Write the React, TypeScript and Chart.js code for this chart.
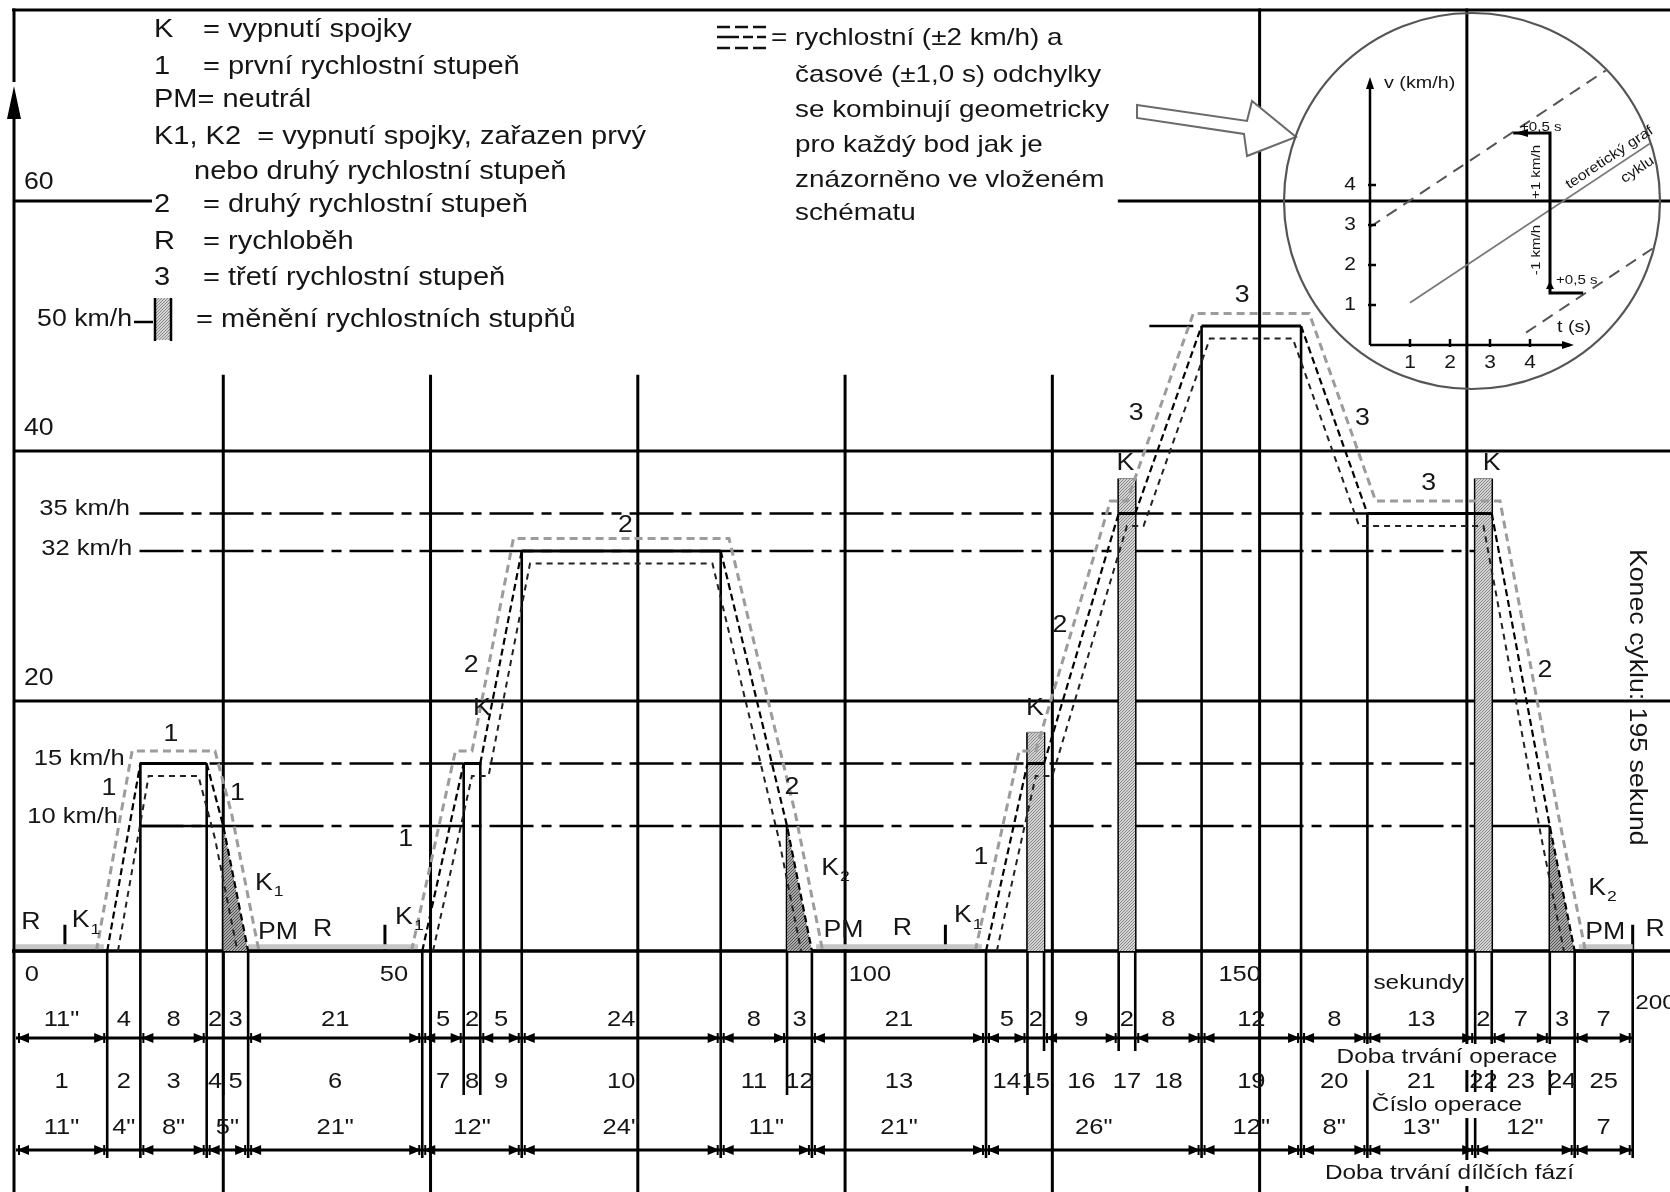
import React, { useEffect, useRef } from "react";
import { Chart, registerables } from "chart.js";

Chart.register(...registerables);

// ---------------- data ----------------
const TIME = [0, 11, 15, 23, 25, 28, 49, 54, 56, 61, 85, 93, 96, 117, 122, 124, 133, 135, 143, 155, 163, 176, 178, 185, 188, 195];
const SPEED = [0, 0, 15, 15, 10, 0, 0, 15, 15, 32, 32, 10, 0, 0, 15, 15, 35, 35, 50, 50, 35, 35, 35, 10, 0, 0];

// tolerance band (upper / lower), null = break between hills
const UPPER_T = [9.7, 14, 24, 26, 29.3, null, 47.7, 53, 55, 60, 86, 94, 97.3, null, 115.7, 121, 123, 132, 134, 142, 156, 164, 179, 186, 189.3];
const UPPER_V = [0, 16, 16, 11, 0, null, 0, 16, 16, 33, 33, 11, 0, null, 0, 16, 16, 36, 36, 51, 51, 36, 36, 11, 0];
const LOWER_T = [12.3, 16, 22, 24, 26.7, null, 50.3, 55, 57, 62, 84, 92, 94.7, null, 118.3, 123, 125, 134, 136, 144, 154, 162, 177, 184, 186.7];
const LOWER_V = [0, 14, 14, 9, 0, null, 0, 14, 14, 31, 31, 9, 0, null, 0, 14, 14, 34, 34, 49, 49, 34, 34, 9, 0];

// gear change bars
const GEAR_FROM = [122, 133, 176];
const GEAR_TO = [124, 135, 178];
const GEAR_TOP = [17.5, 37.8, 37.8];
// declutch shading (10 km/h -> 0)
const DECL_FROM = [25, 93, 185];
const DECL_TO = [28, 96, 188];
const DECL_V = [10, 10, 10];
// idle strips
const IDLE_FROM = [0, 28, 96.5, 188.5];
const IDLE_TO = [10.6, 48.5, 116.5, 195];
// reference speed lines (dash-dot)
const REF_V = [35, 32, 15, 10, 50];
const REF_FROM = [14.9, 14.9, 14.9, 14.9, 136.7];
const REF_TO = [163, 176, 176, 176, 143];
const TEN_FROM = [15, 176];
const TEN_TO = [25, 185];
const REF_LABELS = ["35 km/h", "32 km/h", "15 km/h", "10 km/h"];
const REF_LABEL_V = [35.4, 32.2, 15.4, 10.7];
const REF_LABEL_T = [13.75, 14, 13.1, 12.3];
// clutch ticks on the time axis
const KTICK_T = [5.9, 44.5, 112.1, 195];
// grid
const GRID_V = [20, 40];
const GRID_T = [25, 50, 75, 100, 125, 150, 175];
const AXIS_LABELS = ["60", "40", "20"];
const AXIS_LABEL_V = [61.5, 41.8, 21.8];
const TICK_LABELS = ["0", "50", "100", "150"];
const TICK_LABEL_T = [1.9, 45.6, 103, 147.6];

// operations / phases table
const OP_DUR = [11, 4, 8, 2, 3, 21, 5, 2, 5, 24, 8, 3, 21, 5, 2, 9, 2, 8, 12, 8, 13, 2, 7, 3, 7];
const OP_DUR_LABEL = ['11"', "4", "8", "2", "3", "21", "5", "2", "5", "24", "8", "3", "21", "5", "2", "9", "2", "8", "12", "8", "13", "2", "7", "3", "7"];
const PHASE_DUR = [11, 4, 8, 5, 21, 12, 24, 11, 21, 26, 12, 8, 13, 12, 7];
const PHASE_LABEL = ['11"', '4"', '8"', '5"', '21"', '12"', '24"', '11"', '21"', '26"', '12"', '8"', '13"', '12"', "7"];
const SHORT_OP_T = [124, 133, 135];

// labels inside the chart (t, v)
const LBL_TEXT = ["R", "K_1", "1", "1", "1", "K_1", "PM", "R", "K_1", "1", "2", "K", "2", "2", "K_2", "PM", "R", "K_1", "1", "K", "2", "K", "3", "3", "3", "3", "K", "2", "K_2", "PM", "R"];
const LBL_T = [1.8, 7.8, 11.2, 18.7, 26.7, 29.9, 31.6, 37, 46.8, 47, 54.9, 56.2, 73.5, 93.6, 98.2, 99.8, 106.9, 114.2, 116.4, 122.9, 125.9, 133.8, 135.1, 147.9, 162.4, 170.4, 178, 184.4, 190.7, 191.7, 197.7];
const LBL_V = [2.3, 2.4, 13.0, 17.3, 12.6, 5.4, 1.5, 1.7, 2.7, 8.9, 22.8, 19.4, 34, 13.1, 6.6, 1.6, 1.8, 2.8, 7.5, 19.4, 26, 39, 43, 52.4, 42.6, 37.4, 39, 22.4, 5, 1.5, 1.7];

const LEGEND_SYM = ["K", "1", "PM= neutrál", "K1, K2  = vypnutí spojky, zařazen prvý", "", "2", "R", "3", ""];
const LEGEND_TXT = ["= vypnutí spojky", "= první rychlostní stupeň", "", "", "nebo druhý rychlostní stupeň", "= druhý rychlostní stupeň", "= rychloběh", "= třetí rychlostní stupeň", "= měnění rychlostních stupňů"];
const NOTE_LINES = ["rychlostní (±2 km/h) a", "časové (±1,0 s) odchylky", "se kombinují geometricky", "pro každý bod jak je", "znázorněno ve vloženém", "schématu"];

// ---------------- drawing helpers ----------------
const SX = 1.16;
const FF = '"Liberation Sans", Arial, Helvetica, sans-serif';

function seg(ctx: any, x1: number, y1: number, x2: number, y2: number, w = 2.6, color = "#000", dash: number[] = []) {
  ctx.save();
  ctx.beginPath();
  ctx.strokeStyle = color;
  ctx.lineWidth = w;
  ctx.setLineDash(dash);
  ctx.moveTo(x1, y1);
  ctx.lineTo(x2, y2);
  ctx.stroke();
  ctx.restore();
}
function tri(ctx: any, ax: number, ay: number, bx: number, by: number, cx: number, cy: number, color = "#000") {
  ctx.save();
  ctx.beginPath();
  ctx.fillStyle = color;
  ctx.moveTo(ax, ay);
  ctx.lineTo(bx, by);
  ctx.lineTo(cx, cy);
  ctx.closePath();
  ctx.fill();
  ctx.restore();
}
function txt(ctx: any, s: string, x: number, y: number, size: number, align = "left", o: any = {}) {
  ctx.save();
  ctx.translate(x, y);
  if (o.rot) ctx.rotate(o.rot);
  const sx = o.sx || SX;
  ctx.scale(sx, 1);
  ctx.font = `${size}px ${FF}`;
  ctx.textAlign = align;
  ctx.textBaseline = "middle";
  if (o.bg) {
    const w = ctx.measureText(s).width;
    const x0 = align === "center" ? -w / 2 : align === "right" ? -w : 0;
    ctx.fillStyle = "#fff";
    ctx.fillRect(x0 - 2, -size * 0.62, w + 4, size * 1.24);
  }
  ctx.fillStyle = o.color || "#151515";
  ctx.fillText(s, 0, 0);
  ctx.restore();
}
function klabel(ctx: any, s: string, x: number, y: number, size: number) {
  const parts = s.split("_");
  txt(ctx, parts[0], x, y, size, "center");
  if (parts[1]) {
    ctx.save();
    ctx.font = `${size}px ${FF}`;
    const w = ctx.measureText(parts[0]).width * SX;
    ctx.restore();
    txt(ctx, parts[1], x + w / 2 + 1, y + size * 0.38, size * 0.66, "left");
  }
}
function cumsum(a: number[]) {
  const out: number[] = [];
  let s = 0;
  a.forEach((d) => {
    s += d;
    out.push(s);
  });
  return out;
}
function runs(ts: any[], vs: any[]) {
  const out: any[] = [];
  let cur: any[] = [];
  ts.forEach((t, i) => {
    if (t === null) {
      if (cur.length) out.push(cur);
      cur = [];
    } else cur.push({ x: t, y: vs[i] });
  });
  if (cur.length) out.push(cur);
  return out;
}
function topAt(t: number) {
  let v = 0;
  TIME.forEach((tt, i) => {
    if (Math.abs(tt - t) < 1e-6) v = Math.max(v, SPEED[i]);
  });
  GEAR_FROM.forEach((g, i) => {
    if (t >= g - 1e-6 && t <= GEAR_TO[i] + 1e-6) v = Math.max(v, GEAR_TOP[i]);
  });
  return v;
}
function makePattern(bg: string, dot: string) {
  const c = document.createElement("canvas");
  c.width = 3;
  c.height = 3;
  const g = c.getContext("2d")!;
  g.fillStyle = bg;
  g.fillRect(0, 0, 3, 3);
  g.fillStyle = dot;
  g.fillRect(0, 0, 1, 1);
  g.fillRect(2, 1, 1, 1);
  g.fillRect(1, 2, 1, 1);
  return g.createPattern(c, "repeat");
}

const drawPlugin = {
  id: "cycleDrawing",
  beforeDatasetsDraw(chart: any) {
    const ctx = chart.ctx;
    const xs = chart.scales.x;
    const ys = chart.scales.y;
    const X = (t: number) => xs.getPixelForValue(t);
    const Y = (v: number) => ys.getPixelForValue(v);
    const W = chart.width;
    const H = chart.height;
    const y0 = Y(0);
    const ax = X(0) - 2;
    ctx.save();
    ctx.fillStyle = "#fff";
    ctx.fillRect(0, 0, W, H);
    // frame + axis
    seg(ctx, ax - 2, 10, W, 10, 3);
    seg(ctx, ax, 8.5, ax, 82, 3);
    seg(ctx, ax, 112, ax, H, 3);
    tri(ctx, ax, 86, ax - 7, 119, ax + 7, 119);
    // horizontal grid
    GRID_V.forEach((v) => seg(ctx, ax, Y(v), W, Y(v), 3));
    seg(ctx, ax, Y(60), X(16.4), Y(60), 3);
    seg(ctx, X(132.9), Y(60), W, Y(60), 3);
    // vertical grid
    GRID_T.forEach((t) => seg(ctx, X(t), t >= 150 ? 8.5 : Y(46.1), X(t), H, 3));
    // clutch ticks
    KTICK_T.forEach((t) => seg(ctx, X(t), Y(2.1), X(t), y0, 3));
    // operation boundaries
    const phaseB = cumsum(PHASE_DUR);
    const opB = cumsum(OP_DUR);
    opB.forEach((t) => {
      const isPhase = phaseB.some((p) => Math.abs(p - t) < 1e-6);
      const bottom = isPhase ? y0 + 207 : SHORT_OP_T.includes(t) ? y0 + 100 : y0 + 144;
      seg(ctx, X(t), Y(topAt(t)), X(t), bottom, 2.6);
    });
    // baseline
    seg(ctx, ax - 2, y0, W, y0, 3.5);
    // dimension lines
    const ar1 = y0 + 87;
    const ar2 = y0 + 199;
    seg(ctx, X(0), ar1, X(195), ar1, 2.8);
    seg(ctx, X(0), ar2, X(195), ar2, 2.8);
    const arrows = (durs: number[], yy: number) => {
      let acc = 0;
      durs.forEach((d) => {
        const a = X(acc);
        const b = X(acc + d);
        if (d >= 5) {
          tri(ctx, a + 1, yy, a + 13, yy - 5, a + 13, yy + 5);
          tri(ctx, b - 1, yy, b - 13, yy - 5, b - 13, yy + 5);
          seg(ctx, a + 3, yy - 5, a + 3, yy + 5, 2);
          seg(ctx, b - 3, yy - 5, b - 3, yy + 5, 2);
        }
        acc += d;
      });
    };
    arrows(OP_DUR, ar1);
    arrows(PHASE_DUR, ar2);
    ctx.restore();
  },
  afterDatasetsDraw(chart: any) {
    const ctx = chart.ctx;
    const xs = chart.scales.x;
    const ys = chart.scales.y;
    const X = (t: number) => xs.getPixelForValue(t);
    const Y = (v: number) => ys.getPixelForValue(v);
    const y0 = Y(0);
    ctx.save();

    // ---- legend block (top left) ----
    const LY = [30, 67, 100, 137, 172, 205, 242, 278, 320];
    LEGEND_SYM.forEach((s, i) => {
      if (s) txt(ctx, s, 154, LY[i], 25, "left");
    });
    LEGEND_TXT.forEach((s, i) => {
      if (!s) return;
      const x = i === 4 ? 194 : i === 8 ? 196 : 203;
      txt(ctx, s, x, LY[i], 25, "left");
    });
    txt(ctx, "50 km/h", 132, 320, 23, "right");
    seg(ctx, 134, 322, 153, 322, 2.5);
    ctx.fillStyle = makePattern("#d4d4d4", "#8a8a8a");
    ctx.fillRect(155, 298, 16, 42);
    seg(ctx, 155, 298, 155, 341, 2.5);
    seg(ctx, 171, 298, 171, 341, 2.5);
    AXIS_LABELS.forEach((s, i) => txt(ctx, s, 24, Y(AXIS_LABEL_V[i]), 23, "left"));

    // ---- tolerance note ----
    seg(ctx, 717, 27, 766, 27, 2.4, "#111", [13, 5]);
    seg(ctx, 717, 37, 766, 37, 2.4, "#111", [22, 4, 10, 4]);
    seg(ctx, 717, 48, 766, 48, 2.4, "#111", [13, 5]);
    txt(ctx, "= " + NOTE_LINES[0], 771, 38, 24, "left");
    const NY = [38, 75, 110, 145, 180, 213];
    NOTE_LINES.forEach((s, i) => {
      if (i > 0) txt(ctx, s, 795, NY[i], 24, "left");
    });
    // hollow arrow to the inset
    ctx.beginPath();
    const AP = [[1137, 105], [1247, 121], [1252, 101], [1296, 137], [1247, 156], [1244, 134], [1137, 118]];
    AP.forEach((p, i) => (i ? ctx.lineTo(p[0], p[1]) : ctx.moveTo(p[0], p[1])));
    ctx.closePath();
    ctx.fillStyle = "#fff";
    ctx.fill();
    ctx.strokeStyle = "#6a6a6a";
    ctx.lineWidth = 2;
    ctx.setLineDash([]);
    ctx.stroke();

    // ---- inset ----
    const CX = 1472, CY = 201, R = 188;
    const OX = 1370, OY = 345, U = 40;
    const ix = (t: number) => OX + U * t;
    const iy = (v: number) => OY - U * v;
    ctx.beginPath();
    ctx.arc(CX, CY, R, 0, Math.PI * 2);
    ctx.strokeStyle = "#555";
    ctx.lineWidth = 2.2;
    ctx.stroke();
    ctx.save();
    ctx.beginPath();
    ctx.arc(CX, CY, R - 1, 0, Math.PI * 2);
    ctx.clip();
    const k = 0.664;
    seg(ctx, ix(0), iy(2.95), ix(6.4), iy(2.95 + k * 6.4), 2, "#555", [12, 8]);
    seg(ctx, ix(1), iy(0.39 + k), ix(8), iy(0.39 + k * 8), 1.8, "#777");
    seg(ctx, ix(3.9), iy(-2.28 + k * 3.9), ix(8.5), iy(-2.28 + k * 8.5), 2, "#555", [12, 8]);
    ctx.restore();
    seg(ctx, ix(0), iy(0), ix(0), iy(6.5), 2.5);
    tri(ctx, ix(0), iy(6.7), ix(0) - 4, iy(6.4), ix(0) + 4, iy(6.4));
    seg(ctx, ix(0), iy(0), ix(5), iy(0), 2.5);
    tri(ctx, ix(5.1), iy(0), ix(4.8), iy(0) - 4, ix(4.8), iy(0) + 4);
    [1, 2, 3, 4].forEach((n) => {
      seg(ctx, ix(n), iy(0) - 6, ix(n), iy(0) + 2, 2.5);
      txt(ctx, String(n), ix(n), iy(0) + 18, 18, "center");
      seg(ctx, ix(0) - 2, iy(n), ix(0) + 6, iy(n), 2.5);
      txt(ctx, String(n), ix(0) - 20, iy(n), 18, "center");
    });
    txt(ctx, "v (km/h)", ix(0) + 14, iy(6.55), 17, "left");
    txt(ctx, "t (s)", 1557, 327, 17, "left");
    // step
    ctx.beginPath();
    ctx.moveTo(ix(3.58), iy(5.3));
    ctx.lineTo(ix(4.5), iy(5.3));
    ctx.lineTo(ix(4.5), iy(1.3));
    ctx.lineTo(ix(5.33), iy(1.3));
    ctx.strokeStyle = "#000";
    ctx.lineWidth = 3;
    ctx.stroke();
    tri(ctx, ix(3.62), iy(5.3), ix(3.95), iy(5.3) - 4, ix(3.95), iy(5.3) + 4);
    tri(ctx, ix(4.5), iy(1.3) - 12, ix(4.5) - 4, iy(1.3) - 4, ix(4.5) + 4, iy(1.3) - 4);
    txt(ctx, "+0,5 s", 1520, 127, 13, "left");
    txt(ctx, "+0,5 s", 1556, 280, 13, "left");
    txt(ctx, "+1 km/h", 1536, 172, 13, "center", { rot: -Math.PI / 2 });
    txt(ctx, "-1 km/h", 1536, 250, 13, "center", { rot: -Math.PI / 2 });
    const ang = -Math.atan(k);
    txt(ctx, "teoretický graf", 1567, 186, 14, "left", { rot: ang });
    txt(ctx, "cyklu", 1622, 180, 14, "left", { rot: ang });

    // ---- speed reference labels ----
    REF_LABELS.forEach((s, i) => txt(ctx, s, X(REF_LABEL_T[i]), Y(REF_LABEL_V[i]), 22, "right"));
    // ---- labels in chart ----
    LBL_TEXT.forEach((s, i) => klabel(ctx, s, X(LBL_T[i]), Y(LBL_V[i]), 23));
    txt(ctx, "Konec cyklu: 195 sekund", X(195.4), Y(20.3), 23, "center", { rot: Math.PI / 2 });

    // ---- table ----
    TICK_LABELS.forEach((s, i) => txt(ctx, s, X(TICK_LABEL_T[i]), y0 + 24, 22, "center"));
    txt(ctx, "sekundy", X(169.2), y0 + 32, 21, "center");
    txt(ctx, "200", X(195.3), y0 + 52, 21, "left");
    let acc = 0;
    OP_DUR.forEach((d, i) => {
      const c = X(acc + d / 2);
      txt(ctx, OP_DUR_LABEL[i], c, y0 + 69, 22, "center");
      txt(ctx, String(i + 1), c, y0 + 131, 22, "center");
      acc += d;
    });
    acc = 0;
    PHASE_DUR.forEach((d, i) => {
      const c = X(acc + d / 2);
      txt(ctx, PHASE_LABEL[i], c, y0 + 177, 22, "center");
      acc += d;
    });
    txt(ctx, "Doba trvání operace", X(172.6), y0 + 106, 21, "center", { bg: true });
    txt(ctx, "Číslo operace", X(172.6), y0 + 154, 21, "center", { bg: true });
    txt(ctx, "Doba trvání dílčích fází", X(172.9), y0 + 222, 21, "center", { bg: true });
    ctx.restore();
  },
};

export default function App() {
  const ref = useRef<HTMLCanvasElement | null>(null);
  useEffect(() => {
    if (!ref.current) return;
    const light = makePattern("#d2d2d2", "#8c8c8c");
    const dark = makePattern("#a8a8a8", "#555");
    const datasets: any[] = [];
    const base = { pointRadius: 0, fill: false, tension: 0 };
    datasets.push({
      ...base,
      data: TIME.map((t, i) => ({ x: t, y: SPEED[i] })),
      borderColor: "#000",
      borderWidth: 3,
      segment: {
        borderDash: (c: any) => (c.p0.parsed.y !== c.p1.parsed.y ? [7, 4] : undefined),
        borderWidth: (c: any) => (c.p0.parsed.y !== c.p1.parsed.y ? 2.2 : 3),
      },
    });
    runs(UPPER_T, UPPER_V).forEach((d) =>
      datasets.push({ ...base, data: d, borderColor: "#9c9c9c", borderWidth: 3, borderDash: [8, 5] })
    );
    runs(LOWER_T, LOWER_V).forEach((d) =>
      datasets.push({ ...base, data: d, borderColor: "#222", borderWidth: 2, borderDash: [6, 5] })
    );
    GEAR_FROM.forEach((t0, i) =>
      datasets.push({
        ...base,
        data: [{ x: t0, y: GEAR_TOP[i] }, { x: GEAR_TO[i], y: GEAR_TOP[i] }],
        borderColor: "#888",
        borderWidth: 1,
        fill: "origin",
        backgroundColor: light,
      })
    );
    DECL_FROM.forEach((t0, i) =>
      datasets.push({
        ...base,
        data: [{ x: t0, y: DECL_V[i] }, { x: DECL_TO[i], y: 0 }],
        borderColor: "rgba(0,0,0,0)",
        borderWidth: 0,
        fill: "origin",
        backgroundColor: dark,
      })
    );
    IDLE_FROM.forEach((t0, i) =>
      datasets.push({ ...base, data: [{ x: t0, y: 0.35 }, { x: IDLE_TO[i], y: 0.35 }], borderColor: "#c6c6c6", borderWidth: 5 })
    );
    REF_V.forEach((v, i) =>
      datasets.push({
        ...base,
        data: [{ x: REF_FROM[i], y: v }, { x: REF_TO[i], y: v }],
        borderColor: "#000",
        borderWidth: 2.6,
        borderDash: [44, 8, 10, 8],
      })
    );
    TEN_FROM.forEach((t0, i) =>
      datasets.push({ ...base, data: [{ x: t0, y: 10 }, { x: TEN_TO[i], y: 10 }], borderColor: "#000", borderWidth: 2.6 })
    );

    const chart = new Chart(ref.current, {
      type: "line",
      data: { datasets },
      options: {
        responsive: false,
        devicePixelRatio: 1,
        animation: false,
        events: [],
        layout: { padding: { left: 16, right: 0, top: 0, bottom: 0 } },
        plugins: { legend: { display: false }, tooltip: { enabled: false } },
        scales: {
          x: { type: "linear", min: 0, max: 199.5, display: false },
          y: { type: "linear", min: -19.28, max: 76.08, display: false },
        },
      },
      plugins: [drawPlugin],
    } as any);
    return () => chart.destroy();
  }, []);
  return (
    <div style={{ position: "absolute", left: 0, top: 0, width: 1670, height: 1192, background: "#fff" }}>
      <canvas ref={ref} width={1670} height={1192} style={{ display: "block", width: 1670, height: 1192 }} />
    </div>
  );
}
